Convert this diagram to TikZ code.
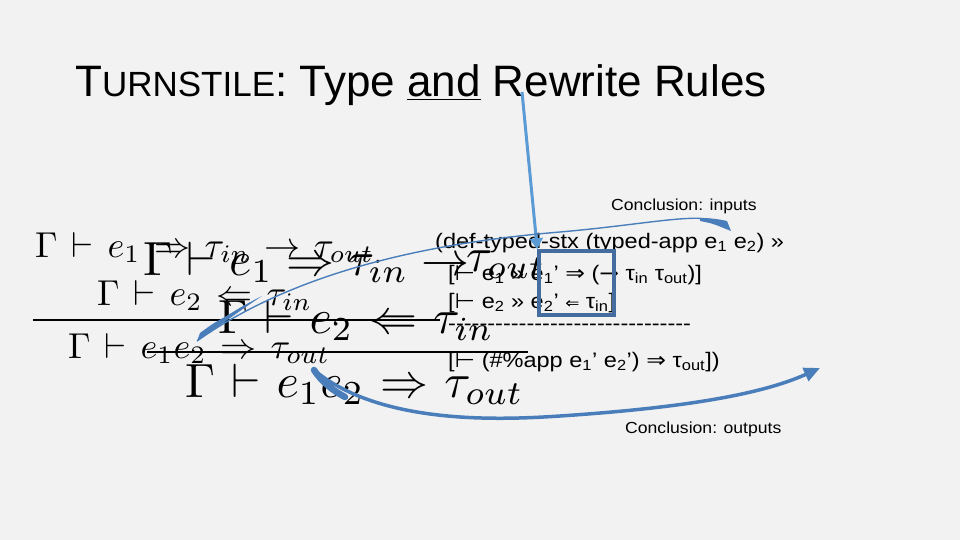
\documentclass[tikz,border=0pt]{standalone}
\usepackage[no-math]{fontspec}
\setmainfont{Liberation Sans}
\newfontfamily\codefont{Liberation Sans}
\newfontfamily\symf{DejaVu Sans}
\usetikzlibrary{arrows.meta}
\definecolor{bg}{RGB}{242,242,242}
\definecolor{arrblue}{RGB}{91,155,213}
\definecolor{curveblue}{RGB}{74,126,187}
\definecolor{boxblue}{RGB}{68,108,158}
\newcommand{\vd}{{\symf ⊢}}
\newcommand{\sub}[1]{\textsubscript{#1}}
\newcommand{\smallrule}[1]{\scalebox{3.6}{\thickmuskip=7mu $#1$}}
\newcommand{\bigrule}[1]{\scalebox{4.8}{\thickmuskip=6mu $#1$}}
\newcommand{\codetext}[1]{\scalebox{1.12}[1]{#1}}
\begin{document}
\begin{tikzpicture}[x=1pt,y=-1pt,
  smallm/.style={anchor=base west,inner sep=0pt,font=\fontsize{10}{12}\selectfont},
  bigm/.style={anchor=base west,inner sep=0pt,font=\fontsize{10}{12}\selectfont},
  codeline/.style={anchor=base west,inner sep=0pt,font=\codefont\fontsize{21}{24}\selectfont},
  conclab/.style={anchor=base west,inner sep=0pt,font=\fontsize{16}{19}\selectfont},
  ruleline/.style={line width=2pt,black}]
\useasboundingbox (0,0) rectangle (960,540);
\fill[bg] (0,0) rectangle (960,540);

% title
\node[anchor=base west,inner sep=0pt] (title) at (75,97)
  {\fontsize{44}{50}\selectfont T\fontsize{35}{40}\selectfont URNSTILE\fontsize{44}{50}\selectfont: Type \underline{and} Rewrite Rules};

% small rule
\node[smallm] (s1) at (35,257) {\smallrule{\Gamma \vdash e_1 \Rightarrow \tau_{in} \rightarrow \tau_{out}}};
\node[smallm] (s2) at (97,305) {\smallrule{\Gamma \vdash e_2 \Leftarrow \tau_{in}}};
\node[smallm] (s3) at (68,358) {\smallrule{\Gamma \vdash e_1 e_2 \Rightarrow \tau_{out}}};
\coordinate (sr1) at (33,320);
\coordinate (sr2) at (440,320);
\draw[ruleline] (sr1) -- (sr2);

% big rule
\node[bigm] (b1) at (143,275) {\scalebox{4.8}{\thickmuskip=5mu $\Gamma \vdash e_1 \Rightarrow \tau_{in} \rightarrow$}};
\node[bigm] (b1b) at (466,271) {\bigrule{\tau_{out}}};
\node[bigm] (b2) at (218,333) {\bigrule{\Gamma \vdash e_2 \Leftarrow \tau_{in}}};
\node[bigm] (b3) at (185,397) {\bigrule{\Gamma \vdash e_1 e_2 \Rightarrow \tau_{out}}};
\coordinate (br1) at (147,352);
\coordinate (br2) at (528,352);
\draw[ruleline] (br1) -- (br2);

% code
\node[codeline] (c1) at (435,248) {\codetext{(def-typed-stx (typed-app e\sub{1} e\sub{2}) »}};
\node[codeline] (c2) at (448,280) {\codetext{[\vd\ e\sub{1} » e\sub{1}’ {\symf ⇒} ({\symf →} τ\sub{in} τ\sub{out})]}};
\node[codeline] (c3) at (448,308) {\codetext{[\vd\ e\sub{2} » e\sub{2}’ {\symf\fontsize{15}{18}\selectfont ⇐} τ\sub{in}]}};
\node[codeline] (c4) at (448,330) {\codetext{-------------------------------}};
\node[codeline] (c5) at (448,367) {\codetext{[\vd\ (\#\%app e\sub{1}’ e\sub{2}’) {\symf ⇒} τ\sub{out}])}};

% labels
\node[conclab] (lin) at (611,210) {\scalebox{1.1}[1]{Conclusion: inputs}};
\node[conclab] (lout) at (625,433) {\scalebox{1.1}[1]{Conclusion: outputs}};

% box
\node[draw=boxblue,line width=3.5pt,minimum width=75pt,minimum height=64pt,inner sep=0pt] (box) at (576.5,283) {};

% vertical arrow from title
\coordinate (vtop) at (522,92);
\draw[arrblue,line width=3pt,-{Triangle[width=13pt,length=11pt]}] (vtop) -- (box.north west);

% inputs curve
\coordinate (inL) at (197,341);
\coordinate (inR) at (712,220);
\coordinate (inTip) at (731,231);
\draw[curveblue,line width=1.4pt] (inL) .. controls (300,268) and (440,242) .. (560,232) .. controls (640,225) and (690,214) .. (inR);
\fill[curveblue] (inL) .. controls (210,326) and (230,312) .. (262,296) .. controls (232,316) and (214,330) .. (inL) -- cycle;
\fill[curveblue] (inL) -- (200,333) .. controls (215,322) .. (240,309) -- (215,328) -- cycle;
\fill[curveblue] (700,218) .. controls (710,218) and (718,219) .. (727,221) -- (inTip) -- (716,225) .. controls (710,223) .. (700,221) -- cycle;

% outputs curve
\coordinate (outL) at (314,370);
\coordinate (outR) at (820,368);
\draw[curveblue,line width=3.5pt,-{Triangle[width=14pt,length=16pt]}] (outL) .. controls (380,425) and (500,420) .. (560,416) .. controls (680,408) and (760,395) .. (outR);
\draw[curveblue,line width=6.5pt,line cap=round] (outL) .. controls (322,382) and (332,390) .. (345,397);
\end{tikzpicture}
\end{document}
